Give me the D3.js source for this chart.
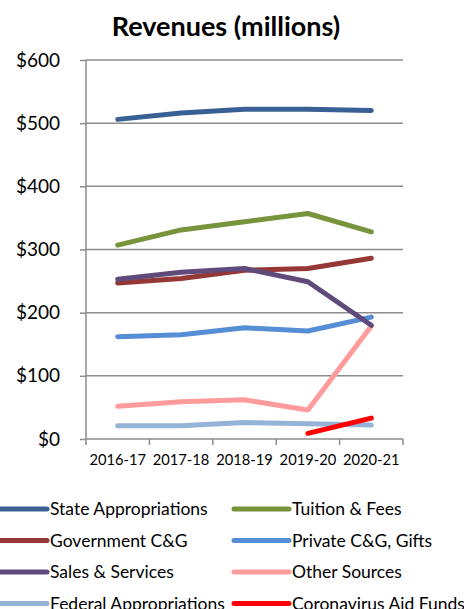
<!DOCTYPE html>
<html>
<head>
<meta charset="utf-8">
<script src="https://cdn.jsdelivr.net/npm/d3@7"></script>
<style>
  body { margin: 0; background: #fff; }
  svg { display: block; font-family: Lato, "Open Sans", sans-serif; }
</style>
</head>
<body>
<script>
// data (millions of dollars)
var years = ["2016-17", "2017-18", "2018-19", "2019-20", "2020-21"];
var stateApprop = [506, 516, 522, 522, 520];
var tuitionFees = [307, 331, 344, 357, 328];
var govCG = [247, 254, 267, 270, 286];
var privateCG = [162, 165, 176, 171, 193];
var salesServices = [253, 264, 270, 249, 180];
var otherSources = [52, 59, 62, 46, 179];
var federalApprop = [21, 21, 26, 24, 22];
var coronaAid = [null, null, null, 9, 33];
var yTicks = [0, 100, 200, 300, 400, 500, 600];

var series = [
  {name: "State Appropriations", values: stateApprop, color: "#386094"},
  {name: "Tuition & Fees", values: tuitionFees, color: "#77933c"},
  {name: "Government C&G", values: govCG, color: "#953735"},
  {name: "Private C&G, Gifts", values: privateCG, color: "#558ed5"},
  {name: "Sales & Services", values: salesServices, color: "#604a7b"},
  {name: "Other Sources", values: otherSources, color: "#ff9b9b"},
  {name: "Federal Appropriations", values: federalApprop, color: "#95b3d7"},
  {name: "Coronavirus Aid Funds", values: coronaAid, color: "#ff0000"}
];
// draw order: keep the red one on top
var drawOrder = [6, 5, 3, 2, 4, 1, 0, 7];

var w = 464, h = 609;
var margin = {top: 60, right: 61, bottom: 170, left: 86};

var svg = d3.select("body").append("svg")
    .attr("width", w)
    .attr("height", h);

var x = d3.scaleBand()
    .domain(years)
    .range([margin.left, w - margin.right]);

var y = d3.scaleLinear()
    .domain([0, 600])
    .range([h - margin.bottom, margin.top]);

svg.append("text")
    .attr("x", 226)
    .attr("y", 36)
    .attr("text-anchor", "middle")
    .style("font-size", "27px")
    .style("font-weight", "bold")
    .text("Revenues (millions)");

// gridlines + y labels
var yAxis = svg.append("g")
    .attr("transform", "translate(" + margin.left + ",0)")
    .call(d3.axisLeft(y).tickValues(yTicks).tickSize(6)
      .tickFormat(function(d) { return "$" + d; }));
yAxis.select(".domain").remove();
yAxis.selectAll(".tick line").attr("stroke", "#8c8c8c").attr("stroke-width", 1.5);
yAxis.selectAll(".tick text")
    .attr("x", -26)
    .style("font-size", "19px")
    .style("font-family", "Lato, sans-serif")
    .attr("fill", "#000");

svg.append("g").selectAll("line")
    .data(yTicks)
    .enter().append("line")
    .attr("x1", margin.left)
    .attr("x2", w - margin.right)
    .attr("y1", function(d) { return y(d); })
    .attr("y2", function(d) { return y(d); })
    .attr("stroke", "#8c8c8c")
    .attr("stroke-width", 1.5);

svg.append("line")
    .attr("x1", margin.left).attr("x2", margin.left)
    .attr("y1", y(600)).attr("y2", y(0))
    .attr("stroke", "#8c8c8c")
    .attr("stroke-width", 1.5);

// x axis: ticks between the categories
var xEdges = years.map(function(d) { return x(d); }).concat([x.range()[1]]);
svg.append("g").selectAll("line")
    .data(xEdges)
    .enter().append("line")
    .attr("x1", function(d) { return d; })
    .attr("x2", function(d) { return d; })
    .attr("y1", y(0))
    .attr("y2", y(0) + 6)
    .attr("stroke", "#8c8c8c")
    .attr("stroke-width", 1.5);

svg.append("g").selectAll("text")
    .data(years)
    .enter().append("text")
    .attr("x", function(d) { return x(d) + x.bandwidth() / 2; })
    .attr("y", y(0) + 26)
    .attr("text-anchor", "middle")
    .style("font-size", "14.7px")
    .text(function(d) { return d; });

var line = d3.line()
    .defined(function(d) { return d != null; })
    .x(function(d, i) { return x(years[i]) + x.bandwidth() / 2; })
    .y(function(d) { return y(d); });

svg.append("g").selectAll("path")
    .data(drawOrder.map(function(i) { return series[i]; }))
    .enter().append("path")
    .attr("d", function(s) { return line(s.values); })
    .attr("fill", "none")
    .attr("stroke", function(s) { return s.color; })
    .attr("stroke-width", 5)
    .attr("stroke-linecap", "round")
    .attr("stroke-linejoin", "round");

// legend, two columns
var legend = svg.append("g").selectAll("g")
    .data(series)
    .enter().append("g")
    .attr("transform", function(d, i) {
      return "translate(" + (i % 2 ? 234 : -8) + "," + (509 + Math.floor(i / 2) * 31.5) + ")";
    });
legend.append("line")
    .attr("x1", 0).attr("x2", 55)
    .attr("stroke", function(d) { return d.color; })
    .attr("stroke-width", 5)
    .attr("stroke-linecap", "round");
legend.append("text")
    .attr("x", 58)
    .attr("dy", "0.35em")
    .style("font-size", "17.5px")
    .text(function(d) { return d.name; });
</script>
</body>
</html>
